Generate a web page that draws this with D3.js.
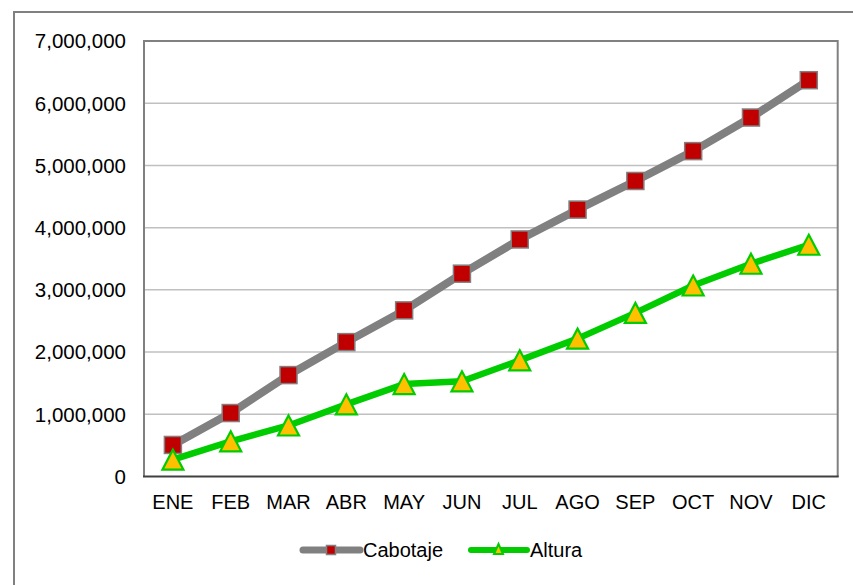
<!DOCTYPE html>
<html>
<head>
<meta charset="utf-8">
<script src="https://cdn.jsdelivr.net/npm/d3@7"></script>
<style>
  html, body { margin: 0; padding: 0; background: #fff; }
  text { font-family: "Liberation Sans", Arial, sans-serif; fill: #000; }
</style>
</head>
<body>
<div id="chart"></div>
<script>
var months = ["ENE", "FEB", "MAR", "ABR", "MAY", "JUN", "JUL", "AGO", "SEP", "OCT", "NOV", "DIC"];
var cabotaje = [507000, 1020000, 1630000, 2160000, 2670000, 3260000, 3810000, 4290000, 4750000, 5230000, 5770000, 6370000];
var altura = [270000, 566000, 820000, 1160000, 1485000, 1530000, 1867000, 2216000, 2630000, 3070000, 3420000, 3725000];
var yTicks = [0, 1000000, 2000000, 3000000, 4000000, 5000000, 6000000, 7000000];
var seriesNames = ["Cabotaje", "Altura"];

var width = 853, height = 585;
var plot = {left: 144, top: 41, right: 837.7, bottom: 476.5};

var svg = d3.select("#chart")
	.append("svg")
		.attr("width", width)
		.attr("height", height);

// outer frame
svg.append("rect")
	.attr("x", 14).attr("y", 12)
	.attr("width", 900).attr("height", 700)
	.attr("fill", "none")
	.attr("stroke", "#808080")
	.attr("stroke-width", 2);

var x = d3.scaleBand()
	.domain(months)
	.range([plot.left, plot.right]);

var y = d3.scaleLinear()
	.domain([0, 7000000])
	.range([plot.bottom, plot.top]);

var fmt = d3.format(",");

// gridlines
svg.append("g")
	.selectAll("line")
	.data(yTicks.slice(1))
	.enter()
		.append("line")
		.attr("x1", plot.left).attr("x2", plot.right)
		.attr("y1", d => y(d)).attr("y2", d => y(d))
		.attr("stroke", "#c0c0c0")
		.attr("stroke-width", 1.5);

// plot frame (left, top, right)
svg.append("path")
	.attr("d", "M" + plot.left + "," + plot.bottom + "V" + plot.top + "H" + plot.right + "V" + plot.bottom)
	.attr("fill", "none")
	.attr("stroke", "#808080")
	.attr("stroke-width", 2);

// x axis line
svg.append("line")
	.attr("x1", plot.left - 1).attr("x2", plot.right + 1)
	.attr("y1", plot.bottom).attr("y2", plot.bottom)
	.attr("stroke", "#404040")
	.attr("stroke-width", 2);

// y labels
svg.append("g")
	.selectAll("text")
	.data(yTicks)
	.enter()
		.append("text")
		.attr("x", 126)
		.attr("y", d => y(d))
		.attr("dy", "0.36em")
		.attr("text-anchor", "end")
		.attr("font-size", "20.5px")
		.text(d => fmt(d));

// x labels
svg.append("g")
	.selectAll("text")
	.data(months)
	.enter()
		.append("text")
		.attr("x", d => x(d) + x.bandwidth() / 2)
		.attr("y", 509)
		.attr("text-anchor", "middle")
		.attr("font-size", "20px")
		.text(d => d);

var line = d3.line()
	.x((d, i) => x(months[i]) + x.bandwidth() / 2)
	.y(d => y(d));

svg.append("path")
	.datum(cabotaje)
	.attr("d", line)
	.attr("fill", "none")
	.attr("stroke", "#808080")
	.attr("stroke-width", 8)
	.attr("stroke-linejoin", "round");

svg.append("path")
	.datum(altura)
	.attr("d", line)
	.attr("fill", "none")
	.attr("stroke", "#00cc00")
	.attr("stroke-width", 6.5)
	.attr("stroke-linejoin", "round");

function triPath(cx, cy, w, h) {
	return "M" + cx + "," + (cy - h / 2) + "L" + (cx + w / 2) + "," + (cy + h / 2) + "L" + (cx - w / 2) + "," + (cy + h / 2) + "Z";
}

svg.append("g")
	.selectAll("rect")
	.data(cabotaje)
	.enter()
		.append("rect")
		.attr("x", (d, i) => x(months[i]) + x.bandwidth() / 2 - 8.5)
		.attr("y", d => y(d) - 8.5)
		.attr("width", 17).attr("height", 17)
		.attr("fill", "#c00000")
		.attr("stroke", "#808080")
		.attr("stroke-width", 1.5);

svg.append("g")
	.selectAll("path")
	.data(altura)
	.enter()
		.append("path")
		.attr("d", (d, i) => triPath(x(months[i]) + x.bandwidth() / 2, y(d), 21, 20))
		.attr("fill", "#ffc000")
		.attr("stroke", "#00cc00")
		.attr("stroke-width", 2.2)
		.attr("stroke-linejoin", "miter");

// legend
var legend = svg.append("g");
legend.append("line")
	.attr("x1", 303).attr("x2", 360).attr("y1", 550).attr("y2", 550)
	.attr("stroke", "#808080").attr("stroke-width", 7).attr("stroke-linecap", "round");
legend.append("rect")
	.attr("x", 326.5).attr("y", 545.5).attr("width", 9).attr("height", 9)
	.attr("fill", "#c00000").attr("stroke", "#808080").attr("stroke-width", 1.5);
legend.append("text")
	.attr("x", 363).attr("y", 557)
	.attr("font-size", "20px")
	.text(seriesNames[0]);

legend.append("line")
	.attr("x1", 471).attr("x2", 527).attr("y1", 550).attr("y2", 550)
	.attr("stroke", "#00cc00").attr("stroke-width", 6).attr("stroke-linecap", "round");
legend.append("path")
	.attr("d", triPath(498.5, 549, 9, 10))
	.attr("fill", "#ffc000").attr("stroke", "#00cc00").attr("stroke-width", 2);
legend.append("text")
	.attr("x", 530).attr("y", 557)
	.attr("font-size", "20px")
	.text(seriesNames[1]);
</script>
</body>
</html>
